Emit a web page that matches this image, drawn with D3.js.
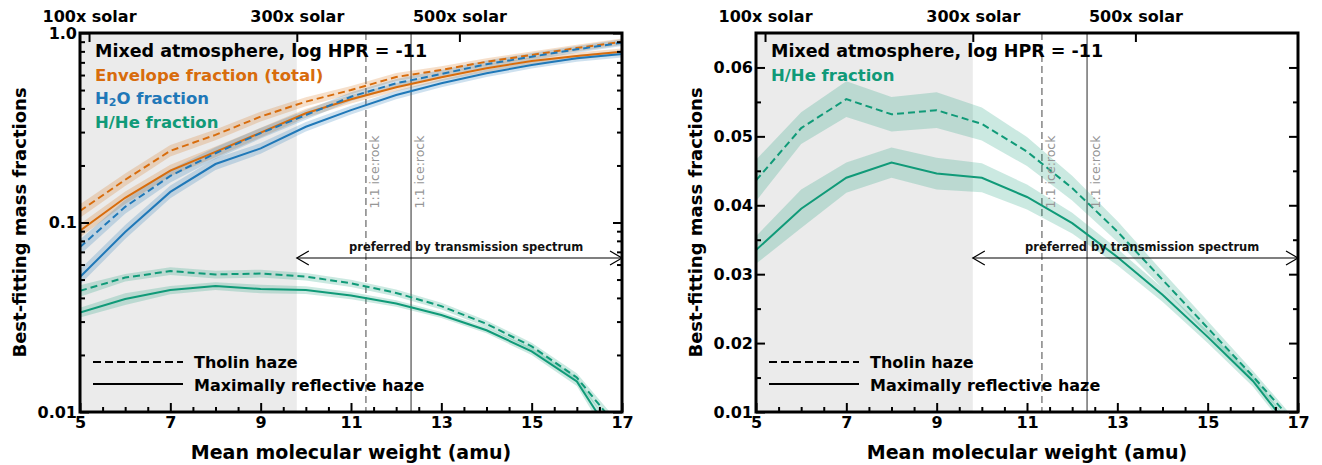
<!DOCTYPE html>
<html>
<head>
<meta charset="utf-8">
<script src="https://cdn.jsdelivr.net/npm/d3@7"></script>
<style>
body{margin:0;background:#fff}
svg{display:block}
text{font-family:"DejaVu Sans",sans-serif}
</style>
</head>
<body>
<svg id="chart" width="1322" height="465"></svg>
<script>
// ---------------- data ----------------
const mmw = [5,6,7,8,9,10,11,12,13,14,15,16,17];
const envTholin  = [0.115,0.168,0.239,0.290,0.362,0.434,0.500,0.586,0.638,0.705,0.766,0.833,0.900];
const envReflect = [0.0905,0.135,0.188,0.236,0.298,0.377,0.447,0.517,0.584,0.651,0.712,0.756,0.797];
const h2oTholin  = [0.0742,0.121,0.176,0.232,0.296,0.369,0.461,0.543,0.608,0.684,0.750,0.820,0.889];
const h2oReflect = [0.0516,0.089,0.145,0.2035,0.246,0.320,0.392,0.471,0.543,0.613,0.678,0.735,0.775];
const hheTholin  = [0.0436,0.0512,0.0554,0.0532,0.0538,0.0518,0.0478,0.0425,0.0362,0.0292,0.0222,0.0152,0.0078];
const hheReflect = [0.0335,0.0395,0.0440,0.0462,0.0446,0.0440,0.0412,0.0374,0.0325,0.0270,0.0209,0.0145,0.0062];
// band half-widths
const envBandDex = [0.035,0.033,0.030,0.028,0.026,0.024,0.022,0.021,0.020,0.019,0.018,0.018,0.017];
const h2oBandDex = [0.040,0.037,0.034,0.031,0.028,0.025,0.023,0.022,0.021,0.020,0.019,0.018,0.018];
const hheTholinErr  = [0.0030,0.0023,0.0026,0.0025,0.0026,0.0024,0.0021,0.0018,0.0015,0.0012,0.0010,0.0008,0.0006];
const hheReflectErr = [0.0020,0.0028,0.0022,0.0022,0.0023,0.0021,0.0018,0.0015,0.0012,0.0010,0.0009,0.0008,0.0007];
// annotations
const solarPos = [5.2, 9.8, 13.4];
const solarLabels = ["100x solar","300x solar","500x solar"];
const preferredStart = 9.8;
const iceRockDashed = 11.33;
const iceRockSolid = 12.33;
const leftTicks = [0.01, 0.1, 1.0];
const leftTickLabels = ["0.01","0.1","1.0"];
const rightTicks = [0.01,0.02,0.03,0.04,0.05,0.06];
const xTicks = [5,7,9,11,13,15,17];

const C = {orange:"#d86c0c", blue:"#1f78b8", green:"#109a78"};

const svg = d3.select("#chart");

function panel(opts){
  const {x0, x1, y0, y1, yScale, id} = opts;
  const x = d3.scaleLinear().domain([5,17]).range([x0,x1]);
  const y = yScale.range([y1,y0]);
  const g = svg.append("g");
  g.append("clipPath").attr("id",id).append("rect")
    .attr("x",x0).attr("y",y0).attr("width",x1-x0).attr("height",y1-y0);
  const plot = g.append("g").attr("clip-path",`url(#${id})`);
  // gray region
  plot.append("rect").attr("x",x(5)).attr("y",y0).attr("width",x(preferredStart)-x(5)).attr("height",y1-y0)
    .attr("fill","#ebebeb");
  // ice:rock lines
  plot.append("line").attr("x1",x(iceRockDashed)).attr("x2",x(iceRockDashed)).attr("y1",y0).attr("y2",y1)
    .attr("stroke","#8c8c8c").attr("stroke-width",1.6).attr("stroke-dasharray","7,4");
  plot.append("line").attr("x1",x(iceRockSolid)).attr("x2",x(iceRockSolid)).attr("y1",y0).attr("y2",y1)
    .attr("stroke","#7a7a7a").attr("stroke-width",1.6);
  [iceRockDashed, iceRockSolid].forEach(v=>{
    g.append("text").attr("transform",`translate(${x(v)+13},172) rotate(-90)`)
      .attr("text-anchor","middle").attr("font-size",12.5).attr("fill","#969696").text("1:1 ice:rock");
  });
  // series
  opts.series.forEach(s=>{
    const area = d3.area().x((d,i)=>x(mmw[i]))
      .y0((d,i)=>y(s.lo(i))).y1((d,i)=>y(s.hi(i)));
    plot.append("path").datum(s.values).attr("d",area).attr("fill",s.color).attr("fill-opacity",0.22);
  });
  opts.series.forEach(s=>{
    const line = d3.line().x((d,i)=>x(mmw[i])).y(d=>y(d));
    plot.append("path").datum(s.values).attr("d",line).attr("fill","none")
      .attr("stroke",s.color).attr("stroke-width",2)
      .attr("stroke-dasharray", s.dashed ? "7,4" : null);
  });
  // arrow
  const ay = 258;
  g.append("line").attr("x1",x(preferredStart)).attr("x2",x(17)).attr("y1",ay).attr("y2",ay)
    .attr("stroke","#000").attr("stroke-width",1.2);
  [[x(preferredStart),1],[x(17),-1]].forEach(([px,dir])=>{
    g.append("path").attr("d",`M${px+dir*12},${ay-7}L${px},${ay}L${px+dir*12},${ay+7}`)
      .attr("fill","none").attr("stroke","#000").attr("stroke-width",1.2);
  });
  g.append("text").attr("x",x(13.55)).attr("y",ay-7).attr("text-anchor","middle")
    .attr("font-size",11.5).attr("font-weight","bold").attr("fill","#111").text("preferred by transmission spectrum");

  // axes
  const fontAxis = sel=>sel.selectAll("text").attr("font-family","DejaVu Sans").attr("font-weight","bold")
    .attr("font-size",16).attr("fill","#000");
  const styleTicks = (sel,w)=>{sel.select(".domain").remove(); sel.selectAll("line").attr("stroke","#000").attr("stroke-width",w);};

  // bottom
  const xMinor = d3.range(5,17.01,0.5).filter(v=>!xTicks.includes(v));
  g.append("g").attr("transform",`translate(0,${y1})`)
    .call(d3.axisBottom(x).tickValues(xMinor).tickSize(-5).tickFormat("")).call(s=>styleTicks(s,2));
  g.append("g").attr("transform",`translate(0,${y1})`)
    .call(d3.axisBottom(x).tickValues(xTicks).tickSize(-9).tickPadding(5).tickFormat(d3.format("d")))
    .call(s=>styleTicks(s,2)).call(fontAxis);
  // top solar
  g.append("g").attr("transform",`translate(0,${y0})`)
    .call(d3.axisTop(x).tickValues(solarPos).tickSize(-9).tickPadding(11).tickFormat((d,i)=>solarLabels[i]))
    .call(s=>styleTicks(s,2)).call(fontAxis);
  // left / right
  g.append("g").attr("transform",`translate(${x0},0)`)
    .call(d3.axisLeft(y).tickValues(opts.minorY).tickSize(-5).tickFormat("")).call(s=>styleTicks(s,2));
  g.append("g").attr("transform",`translate(${x0},0)`)
    .call(d3.axisLeft(y).tickValues(opts.majorY).tickSize(-9).tickPadding(3).tickFormat((d,i)=>opts.majorLabels[i]))
    .call(s=>styleTicks(s,2)).call(fontAxis);
  g.append("g").attr("transform",`translate(${x1},0)`)
    .call(d3.axisRight(y).tickValues(opts.minorY).tickSize(-5).tickFormat("")).call(s=>styleTicks(s,2));
  g.append("g").attr("transform",`translate(${x1},0)`)
    .call(d3.axisRight(y).tickValues(opts.majorY).tickSize(-9).tickFormat("")).call(s=>styleTicks(s,2));
  // frame
  g.append("rect").attr("x",x0).attr("y",y0).attr("width",x1-x0).attr("height",y1-y0)
    .attr("fill","none").attr("stroke","#000").attr("stroke-width",3);

  // axis titles
  g.append("text").attr("x",(x0+x1)/2).attr("y",459).attr("text-anchor","middle")
    .attr("font-size",19).attr("font-weight","bold").text("Mean molecular weight (amu)");
  g.append("text").attr("transform",`translate(${x0-54},${(y0+y1)/2}) rotate(-90)`).attr("text-anchor","middle")
    .attr("font-size",18).attr("font-weight","bold").text("Best-fitting mass fractions");

  // top legend
  opts.legend.forEach((l,i)=>{
    const t = g.append("text").attr("x",x0+15).attr("y",[57,80.5,104,128][i])
      .attr("font-size",i===0?17.5:16.5).attr("font-weight","bold").attr("fill",l.color);
    if(l.sub){
      t.append("tspan").text("H");
      t.append("tspan").attr("font-size",11).attr("dy",2).text("2");
      t.append("tspan").attr("dy",-2).text("O fraction");
    } else t.text(l.text);
  });
  // bottom legend
  [["Tholin haze",true,362,368],["Maximally reflective haze",false,384,391]].forEach(([txt,dash,ly,ty])=>{
    g.append("line").attr("x1",x0+13).attr("x2",x0+103).attr("y1",ly).attr("y2",ly)
      .attr("stroke","#000").attr("stroke-width",2).attr("stroke-dasharray",dash?"8,4":null);
    g.append("text").attr("x",x0+114).attr("y",ty).attr("font-size",16).attr("font-weight","bold").text(txt);
  });
}

const logBand = (vals, dex) => ({lo:i=>vals[i]/Math.pow(10,dex[i]), hi:i=>vals[i]*Math.pow(10,dex[i])});
const absBand = (vals, err) => ({lo:i=>Math.max(vals[i]-err[i],1e-4), hi:i=>vals[i]+err[i]});

const logMinor = [];
[0.01,0.1].forEach(b=>{for(let k=2;k<=9;k++) logMinor.push(b*k);});

panel({
  id:"clipL", x0:80, x1:622, y0:33, y1:412,
  yScale: d3.scaleLog().domain([0.01,1]),
  majorY: leftTicks, majorLabels: leftTickLabels, minorY: logMinor,
  series:[
    {values:envTholin, color:C.orange, dashed:true, ...logBand(envTholin,envBandDex)},
    {values:envReflect, color:C.orange, dashed:false, ...logBand(envReflect,envBandDex)},
    {values:h2oTholin, color:C.blue, dashed:true, ...logBand(h2oTholin,h2oBandDex)},
    {values:h2oReflect, color:C.blue, dashed:false, ...logBand(h2oReflect,h2oBandDex)},
    {values:hheTholin, color:C.green, dashed:true, ...absBand(hheTholin,hheTholinErr)},
    {values:hheReflect, color:C.green, dashed:false, ...absBand(hheReflect,hheReflectErr)}
  ],
  legend:[
    {text:"Mixed atmosphere, log HPR = -11", color:"#000"},
    {text:"Envelope fraction (total)", color:C.orange},
    {sub:true, color:C.blue},
    {text:"H/He fraction", color:C.green}
  ]
});

panel({
  id:"clipR", x0:756, x1:1298, y0:33, y1:412,
  yScale: d3.scaleLinear().domain([0.01,0.065]),
  majorY: rightTicks, majorLabels: rightTicks.map(d3.format(".2f")),
  minorY: [0.015,0.025,0.035,0.045,0.055],
  series:[
    {values:hheTholin, color:C.green, dashed:true, ...absBand(hheTholin,hheTholinErr)},
    {values:hheReflect, color:C.green, dashed:false, ...absBand(hheReflect,hheReflectErr)}
  ],
  legend:[
    {text:"Mixed atmosphere, log HPR = -11", color:"#000"},
    {text:"H/He fraction", color:C.green}
  ]
});
</script>
</body>
</html>
